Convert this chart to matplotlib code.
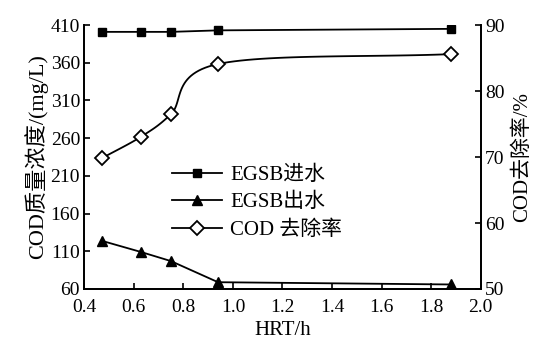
import numpy as np
import matplotlib
matplotlib.use('Agg')
import matplotlib.pyplot as plt

plt.rcParams['font.family'] = ['Liberation Serif', 'Noto Sans CJK SC']
plt.rcParams['font.size'] = 14

# data
hrt = [0.47, 0.63, 0.75, 0.94, 1.88]
cod_in = [401, 401, 401, 403, 405]
cod_out = [124, 109, 97, 69, 66]
removal = [69.8, 73.1, 76.5, 84.1, 85.6]


def catmull_rom(x, y, n=30):
    # smooth line through the points (drawing only)
    x = np.asarray(x, float)
    y = np.asarray(y, float)
    px = np.concatenate([[2 * x[0] - x[1]], x, [2 * x[-1] - x[-2]]])
    py = np.concatenate([[2 * y[0] - y[1]], y, [2 * y[-1] - y[-2]]])
    xs, ys = [], []
    t = np.linspace(0, 1, n)
    for i in range(1, len(px) - 2):
        for p, out in ((px, xs), (py, ys)):
            p0, p1, p2, p3 = p[i - 1], p[i], p[i + 1], p[i + 2]
            out.extend(0.5 * (2 * p1 + (-p0 + p2) * t
                              + (2 * p0 - 5 * p1 + 4 * p2 - p3) * t ** 2
                              + (-p0 + 3 * p1 - 3 * p2 + p3) * t ** 3))
    return xs, ys


fig = plt.figure(figsize=(5.33, 3.39), dpi=100)
ax = fig.add_axes([0.158, 0.1475, 0.744, 0.7785])
ax2 = ax.twinx()

l1, = ax.plot(hrt, cod_in, color='black', lw=1.3, marker='s', ms=5.5,
              label='EGSB进水')
l2, = ax.plot(hrt, cod_out, color='black', lw=1.3, marker='^', ms=7,
              label='EGSB出水')
sx, sy = catmull_rom(hrt, removal)
ax2.plot(sx, sy, color='black', lw=1.3)
ax2.plot(hrt, removal, ls='none', marker='D', ms=7, mfc='white',
         mec='black', mew=1.3)
l3, = ax2.plot([], [], color='black', lw=1.3, marker='D', ms=7,
               mfc='white', mec='black', mew=1.3, label='COD 去除率')

ax.set_xlim(0.4, 2.0)
ax.set_ylim(60, 410)
ax2.set_ylim(50, 90)
ax.set_xticks(np.arange(0.4, 2.01, 0.2))
ax.set_xticklabels(['%.1f' % v for v in np.arange(0.4, 2.01, 0.2)])
ax.set_yticks(np.arange(60, 411, 50))
ax2.set_yticks(np.arange(50, 91, 10))

for a in (ax, ax2):
    a.spines['top'].set_visible(False)
    for s in a.spines.values():
        s.set_linewidth(1.3)
ax.tick_params(direction='in', length=4, width=1.2, labelsize=14)
ax.tick_params(axis='x', pad=7)
ax.tick_params(axis='y', pad=3)
ax2.tick_params(direction='in', length=4, width=1.2, labelsize=14, pad=3)

ax.set_xlabel('HRT/h', fontsize=15, labelpad=4)
ax.set_ylabel('COD质量浓度/(mg/L)', fontsize=16, labelpad=2)
ax2.set_ylabel('COD去除率/%', fontsize=15, labelpad=6)

ax.legend(handles=[l1, l2, l3], loc='upper left',
          bbox_to_anchor=(0.2, 0.5), frameon=False, fontsize=15,
          handlelength=2.4, handletextpad=0.4, labelspacing=0.38,
          borderaxespad=0)

fig.savefig('out.png', dpi=100)
